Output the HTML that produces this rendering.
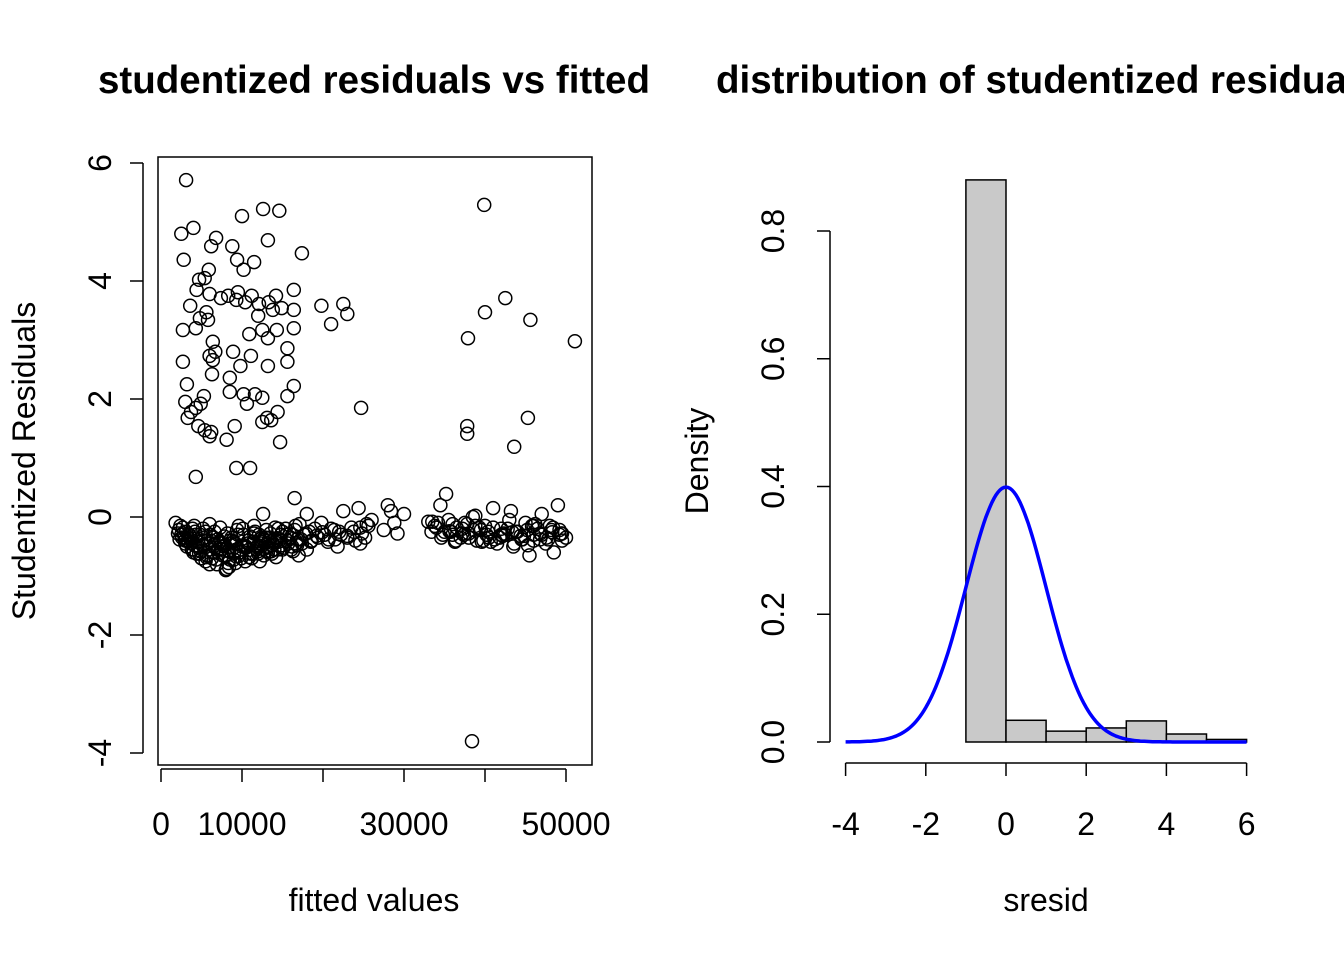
<!DOCTYPE html>
<html><head><meta charset="utf-8">
<style>
html,body{margin:0;padding:0;background:#fff;}
svg{display:block;font-family:"Liberation Sans",Arial,sans-serif;}
</style></head>
<body>
<svg id="chart" width="1344" height="960" viewBox="0 0 1344 960">
<g id="left"></g>
<g id="right"></g>
</svg>
<script>
// ---------- scatter data ----------
const outlierFitted = [3100,2500,4000,2800,10000,12600,14600,13200,6800,6200,8800,11500,9400,10200,5900,17400,39900,4700,5400,4400,6000,3600,4800,5600,2700,4300,5800,7400,8300,9300,9500,10400,11200,12100,13300,14200,13800,14900,16400,16400,10900,12500,13200,14300,16400,12000,19800,21000,22500,23000,40000,42500,45600,37900,51100,6400,6700,8900,6400,6000,2700,9800,13200,15600,11100,15600,6300,8500,3200,8500,10200,11600,5300,12500,15600,16400,3000,4300,4900,3700,10600,14400,24700,3300,4600,5400,6000,6200,13100,12500,13600,9100,8100,14700,37800,37800,45300,43600,4300,9300,11000,16500,35200,38400];
const outlierResid = [5.71,4.80,4.90,4.36,5.10,5.22,5.19,4.69,4.73,4.59,4.59,4.32,4.36,4.19,4.19,4.47,5.29,4.02,4.05,3.85,3.78,3.58,3.37,3.47,3.17,3.20,3.34,3.71,3.75,3.68,3.81,3.64,3.75,3.61,3.64,3.75,3.51,3.54,3.85,3.51,3.10,3.17,3.03,3.17,3.20,3.41,3.58,3.27,3.61,3.44,3.47,3.71,3.34,3.03,2.98,2.97,2.80,2.80,2.66,2.73,2.63,2.56,2.56,2.63,2.73,2.86,2.42,2.36,2.25,2.12,2.08,2.08,2.05,2.02,2.05,2.22,1.95,1.85,1.92,1.78,1.92,1.78,1.85,1.68,1.54,1.47,1.37,1.44,1.68,1.61,1.64,1.54,1.31,1.27,1.54,1.41,1.68,1.19,0.68,0.83,0.83,0.32,0.39,-3.80];
const bandFitted = [1800,2200,2500,2700,2900,3100,3300,3500,3700,3900,2400,2800,3200,3600,4000,4200,4400,4600,4800,5000,4100,4500,4900,5300,5700,5200,5500,5800,6100,6400,6700,7000,6000,6300,6600,6900,7200,7500,7800,8100,7300,7600,7900,8200,8500,8800,9100,9400,8400,8700,9000,9300,9600,9900,10200,10500,10800,9800,10100,10400,10700,11000,11300,11600,11900,12200,11200,11500,11800,12100,12400,12700,13000,13300,13600,12600,12900,13200,13500,13800,14100,14400,14700,15000,14200,14500,14800,15100,15400,15700,16000,16300,16600,15600,15900,16200,16500,16800,17100,17400,17700,18000,18300,18600,19000,19400,19800,20200,20600,21000,21500,22000,22500,23000,23500,24000,24400,24800,25200,25600,26000,27500,28000,28400,28800,29200,30000,3000,4000,5000,6000,7000,8000,9000,10000,11000,12000,13000,14000,5500,6500,7500,8500,9500,10500,11500,12500,13500,14500,8000,8300,12200,17000,18000,21800,24600,33000,33800,34500,35000,35500,36000,36500,37000,37500,38000,38500,39000,39500,40000,40500,41000,41500,42000,42500,43000,43500,44000,44500,45000,45500,46000,46500,47000,47500,48000,48500,49000,49500,50000,34200,35800,37200,38800,40200,41800,43200,44800,46200,47800,49200,36300,39300,42300,45300,48300,46000,49500,33500,37800,40700,43800,46800];
const bandResid = [-0.10,-0.22,-0.30,-0.18,-0.35,-0.25,-0.40,-0.30,-0.45,-0.20,-0.15,-0.28,-0.50,-0.38,-0.55,-0.25,-0.62,-0.42,-0.30,-0.70,-0.15,-0.48,-0.58,-0.35,-0.65,-0.20,-0.75,-0.45,-0.30,-0.60,-0.52,-0.38,-0.12,-0.70,-0.25,-0.80,-0.42,-0.55,-0.33,-0.88,-0.18,-0.65,-0.48,-0.28,-0.72,-0.40,-0.58,-0.22,-0.85,-0.35,-0.62,-0.46,-0.15,-0.70,-0.30,-0.52,-0.40,-0.60,-0.20,-0.75,-0.45,-0.33,-0.62,-0.25,-0.50,-0.38,-0.70,-0.15,-0.55,-0.30,-0.45,-0.65,-0.22,-0.40,-0.58,0.05,-0.35,-0.60,-0.28,-0.48,-0.18,-0.55,-0.38,-0.25,-0.68,-0.42,-0.30,-0.52,-0.20,-0.45,-0.35,-0.58,-0.15,-0.40,-0.28,-0.50,-0.22,-0.38,-0.12,-0.45,-0.30,0.05,-0.25,-0.40,-0.20,-0.35,-0.10,-0.30,-0.42,-0.20,-0.38,-0.25,0.10,-0.32,-0.18,-0.40,0.15,-0.28,-0.35,-0.15,-0.05,-0.22,0.20,0.10,-0.10,-0.28,0.05,-0.40,-0.60,-0.70,-0.80,-0.55,-0.65,-0.72,-0.50,-0.62,-0.48,-0.58,-0.55,-0.25,-0.35,-0.45,-0.40,-0.30,-0.50,-0.28,-0.42,-0.35,-0.20,-0.90,-0.78,-0.75,-0.65,-0.55,-0.50,-0.45,-0.08,-0.15,0.20,-0.25,-0.05,-0.30,-0.18,-0.35,-0.10,-0.28,0.00,-0.40,-0.22,-0.15,-0.35,0.15,-0.45,-0.20,-0.30,-0.05,-0.50,-0.25,-0.38,-0.10,-0.65,-0.30,-0.20,0.05,-0.45,-0.15,-0.60,0.20,-0.28,-0.35,-0.10,-0.25,-0.20,0.02,-0.30,-0.35,0.10,-0.32,-0.12,-0.38,-0.22,-0.42,-0.18,-0.28,-0.48,-0.26,-0.15,-0.40,-0.08,-0.12,-0.42,-0.25,-0.38,-0.18,0.22,-0.05,-0.20,-0.30,-0.45,-0.32];
const bandFitted2 = [2100,2600,3400,3800,4300,4700,5100,5600,6200,6800,7400,8000,8600,9200,9700,10300,10900,11400,12000,12500,13100,13700,14300,14900,15500,16100,16700,17300,17900,18500,19200,19900,20700,21400,22200,23000,23800,24600,25400,2300,3000,3600,4200,4800,5400,6000,6600,7200,7800,8400,9000,9600,10200,10800,11400,12000,12600,13200,13800,14400,15000,15600,16200,16800,34000,34800,35600,36400,37200,38000,38800,39600,40400,41200,42000,42800,43600,44400,45200,46000,46800,47600,48400,49200,33400,34600,36000,37400,38600,39800,41000,42200,43400,44600,45800,47000,48200,49400];
const bandResid2 = [-0.28,-0.35,-0.42,-0.55,-0.30,-0.62,-0.48,-0.68,-0.40,-0.72,-0.55,-0.65,-0.45,-0.78,-0.60,-0.50,-0.68,-0.42,-0.58,-0.35,-0.52,-0.62,-0.40,-0.48,-0.30,-0.55,-0.45,-0.38,-0.28,-0.42,-0.32,-0.26,-0.38,-0.22,-0.30,-0.35,-0.25,-0.18,-0.12,-0.38,-0.45,-0.32,-0.48,-0.52,-0.40,-0.55,-0.45,-0.62,-0.50,-0.58,-0.42,-0.66,-0.48,-0.56,-0.45,-0.62,-0.38,-0.50,-0.44,-0.36,-0.55,-0.40,-0.30,-0.48,-0.18,-0.30,-0.24,-0.40,-0.28,-0.35,-0.15,-0.42,-0.25,-0.38,-0.30,-0.20,-0.45,-0.32,-0.22,-0.40,-0.28,-0.35,-0.18,-0.30,-0.25,-0.35,-0.12,-0.30,-0.22,-0.40,-0.18,-0.32,-0.26,-0.38,-0.15,-0.30,-0.22,-0.28];
const xTickVals = [0,10000,30000,50000];
const xTickMinor = [0,10000,20000,30000,40000,50000];
const yTickVals = [-4,-2,0,2,4,6];

// ---------- histogram data ----------
const binStarts = [-1,0,1,2,3,4,5];
const binDensity = [0.880,0.034,0.017,0.022,0.033,0.0125,0.004];
const hxTicks = [-4,-2,0,2,4,6];
const hyTicks = [0,0.2,0.4,0.6,0.8];

const NS = "http://www.w3.org/2000/svg";
function mk(parent, tag, attrs, text){
  const el = document.createElementNS(NS, tag);
  for (const k in attrs) el.setAttribute(k, attrs[k]);
  if (text !== undefined) el.textContent = text;
  parent.appendChild(el);
  return el;
}

// ---- left panel ----
const L = document.getElementById('left');
const sx = v => 161 + v * 0.0081;
const sy = v => 517 - v * 59;

let t = mk(L,'text',{x:374,y:93,'font-size':38.5,'font-weight':'bold','text-anchor':'middle'},'studentized residuals vs fitted');



let box = mk(L,'rect',{x:158,y:157,width:434,height:608,fill:'none',stroke:'#000','stroke-width':1.5});



const pts = mk(L,'g',{fill:'none',stroke:'#000','stroke-width':1.5});


function drawPt(x,y){
  const c = mk(pts,'circle',{cx:sx(x).toFixed(1),cy:sy(y).toFixed(1),r:6.5});
  
  
}
bandFitted.forEach((x,i)=>drawPt(x,bandResid[i]));
bandFitted2.forEach((x,i)=>drawPt(x,bandResid2[i]));
outlierFitted.forEach((x,i)=>drawPt(x,outlierResid[i]));

const xa = mk(L,'g',{stroke:'#000','stroke-width':1.5});


mk(xa,'line',{x1:sx(0),y1:769,x2:sx(50000),y2:769});
xTickMinor.forEach(v=>mk(xa,'line',{x1:sx(v),y1:769,x2:sx(v),y2:782}));
xTickVals.forEach(v=>{
  const tl = mk(L,'text',{x:sx(v),y:835,'font-size':32,'text-anchor':'middle'},String(v));
  
  
});
const ya = mk(L,'g',{stroke:'#000','stroke-width':1.5});


mk(ya,'line',{x1:143,y1:sy(-4),x2:143,y2:sy(6)});
yTickVals.forEach(v=>{
  mk(ya,'line',{x1:130,y1:sy(v),x2:143,y2:sy(v)});
  const tl = mk(L,'text',{x:111,y:sy(v),'font-size':32,'text-anchor':'middle',transform:`rotate(-90 111 ${sy(v)})`},String(v));
  
  
});
t = mk(L,'text',{x:374,y:911,'font-size':32,'text-anchor':'middle'},'fitted values');


t = mk(L,'text',{x:35,y:461,'font-size':32,'text-anchor':'middle',transform:'rotate(-90 35 461)'},'Studentized Residuals');



// ---- right panel ----
const R = document.getElementById('right');
const hx = v => 1006 + v * 40.1;
const hy = v => 742 - v * 638.75;

t = mk(R,'text',{x:716,y:93,'font-size':38.5,'font-weight':'bold'},'distribution of studentized residuals');



const bars = mk(R,'g',{fill:'#c9c9c9',stroke:'#000','stroke-width':1.5});


binStarts.forEach((b,i)=>{
  const r = mk(bars,'rect',{x:hx(b),y:hy(binDensity[i]),width:hx(b+1)-hx(b),height:hy(0)-hy(binDensity[i])});
  
  
});

let d = '';
for (let v=-4; v<=6.0001; v+=0.05){
  const dn = Math.exp(-v*v/2)/Math.sqrt(2*Math.PI);
  d += (d?'L':'M') + hx(v).toFixed(1) + ' ' + hy(dn).toFixed(1);
}
const curve = mk(R,'path',{d:d,fill:'none',stroke:'#0000ff','stroke-width':3.5});



const hxa = mk(R,'g',{stroke:'#000','stroke-width':1.5});


mk(hxa,'line',{x1:hx(-4),y1:763,x2:hx(6),y2:763});
hxTicks.forEach(v=>{
  mk(hxa,'line',{x1:hx(v),y1:763,x2:hx(v),y2:776});
  const tl = mk(R,'text',{x:hx(v),y:835,'font-size':32,'text-anchor':'middle'},String(v));
  
  
});
const hya = mk(R,'g',{stroke:'#000','stroke-width':1.5});


mk(hya,'line',{x1:830,y1:hy(0),x2:830,y2:hy(0.8)});
hyTicks.forEach(v=>{
  mk(hya,'line',{x1:817,y1:hy(v),x2:830,y2:hy(v)});
  const tl = mk(R,'text',{x:784,y:hy(v),'font-size':32,'text-anchor':'middle',transform:`rotate(-90 784 ${hy(v)})`},v.toFixed(1));
  
  
});
t = mk(R,'text',{x:1046,y:911,'font-size':32,'text-anchor':'middle'},'sresid');


t = mk(R,'text',{x:708,y:461,'font-size':32,'text-anchor':'middle',transform:'rotate(-90 708 461)'},'Density');


</script>
</body></html>
